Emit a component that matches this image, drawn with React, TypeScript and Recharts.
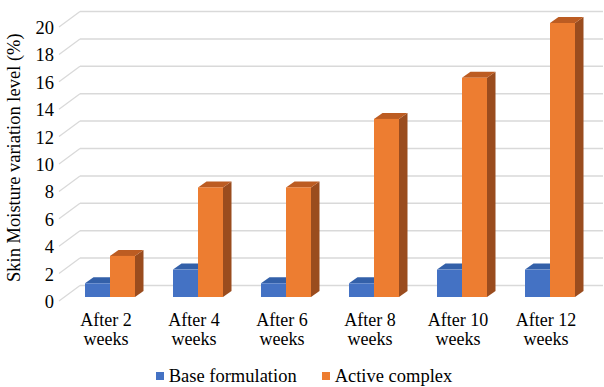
import React from 'react';
import { BarChart, Bar, XAxis, YAxis, CartesianGrid, Legend } from 'recharts';

// weeks of treatment
const categories = ['After 2 weeks', 'After 4 weeks', 'After 6 weeks', 'After 8 weeks', 'After 10 weeks', 'After 12 weeks'];
const baseFormulation = [1, 2, 1, 1, 2, 2];
const activeComplex = [3, 8, 8, 13, 16, 20];
const yTicks = [0, 2, 4, 6, 8, 10, 12, 14, 16, 18, 20];

const data = categories.map((name, i) => ({
  name,
  base: baseFormulation[i],
  active: activeComplex[i],
}));

const FONT = '"Liberation Serif", "Times New Roman", serif';
const DEPTH_X = 8.5;
const DEPTH_Y = 6;

// front / top / side faces of a pseudo-3D column
const make3DShape = (front: string, top: string, side: string) => (props: any) => {
  const { x, y, width, height } = props;
  if (height == null || width == null) return null;
  const bottom = y + height;
  const topFace = `M${x},${y} L${x + DEPTH_X},${y - DEPTH_Y} L${x + width + DEPTH_X},${y - DEPTH_Y} L${x + width},${y} Z`;
  const sideFace = `M${x + width},${y} L${x + width + DEPTH_X},${y - DEPTH_Y} L${x + width + DEPTH_X},${bottom - DEPTH_Y} L${x + width},${bottom} Z`;
  return (
    <g>
      <path d={sideFace} fill={side} />
      <path d={topFace} fill={top} />
      <rect x={x} y={y} width={width} height={height} fill={front} />
    </g>
  );
};

const BaseShape = make3DShape('#4472C4', '#3360A9', '#2F5597');
const ActiveShape = make3DShape('#ED7D31', '#BC5C22', '#9A4C1E');

// floor line running into the back wall, then along the wall
const GridLine = (props: any) => {
  const { y1, x2 } = props;
  const fx = 59;
  const bx = 80;
  return (
    <g key={props.key}>
      <line x1={fx} y1={y1 + 4} x2={bx} y2={y1 - 11.5} stroke="#D9D9D9" strokeWidth={1.3} />
      <line x1={bx} y1={y1 - 11.5} x2={x2 + 9} y2={y1 - 11.5} stroke="#D9D9D9" strokeWidth={1.5} />
    </g>
  );
};

const YTick = (props: any) => {
  const { y, payload } = props;
  return (
    <text x={54} y={y + 5} textAnchor="end" dominantBaseline="central" fontFamily={FONT} fontSize={18.5} fill="#000">
      {payload.value}
    </text>
  );
};

const XTick = (props: any) => {
  const { x, y, payload } = props;
  const words = String(payload.value).split(' ');
  const line1 = words.slice(0, 2).join(' ');
  const line2 = words.slice(2).join(' ');
  return (
    <text x={x - 4} y={y} textAnchor="middle" fontFamily={FONT} fontSize={18} fill="#000">
      <tspan x={x - 4} dy={29}>{line1}</tspan>
      <tspan x={x - 4} dy={19}>{line2}</tspan>
    </text>
  );
};

const LegendContent = () => (
  <div
    style={{
      display: 'flex',
      justifyContent: 'center',
      alignItems: 'center',
      height: 22,
      paddingLeft: 4,
      fontFamily: FONT,
      fontSize: 18.5,
      color: '#000',
    }}
  >
    <span style={{ width: 8, height: 8, background: '#4472C4', marginRight: 5 }} />
    <span style={{ marginRight: 25 }}>Base formulation</span>
    <span style={{ width: 8, height: 8, background: '#ED7D31', marginRight: 5 }} />
    <span>Active complex</span>
  </div>
);

export default function App() {
  return (
    <div style={{ position: 'absolute', left: 0, top: 0, width: 604, height: 387, background: '#fff' }}>
      <BarChart
        width={604}
        height={387}
        data={data}
        margin={{ top: 23, right: 10, left: 0, bottom: 0 }}
        barSize={25}
        barGap={0}
      >
        <CartesianGrid vertical={false} horizontal={GridLine} />
        <XAxis
          dataKey="name"
          axisLine={false}
          tickLine={false}
          tickSize={0}
          tickMargin={0}
          interval={0}
          height={68}
          tick={XTick}
        />
        <YAxis
          domain={[0, 20]}
          ticks={yTicks}
          interval={0}
          width={66}
          axisLine={false}
          tickLine={false}
          tick={YTick}
          label={{
            value: 'Skin Moisture variation level (%)',
            angle: -90,
            position: 'insideLeft',
            dx: 8,
            dy: 122,
            style: { fontFamily: FONT, fontSize: 18.5, fill: '#000' },
          }}
        />
        <Legend verticalAlign="bottom" content={LegendContent} wrapperStyle={{ left: 0, width: 604 }} />
        <Bar dataKey="base" name="Base formulation" fill="#4472C4" shape={BaseShape} isAnimationActive={false} />
        <Bar dataKey="active" name="Active complex" fill="#ED7D31" shape={ActiveShape} isAnimationActive={false} />
      </BarChart>
    </div>
  );
}
